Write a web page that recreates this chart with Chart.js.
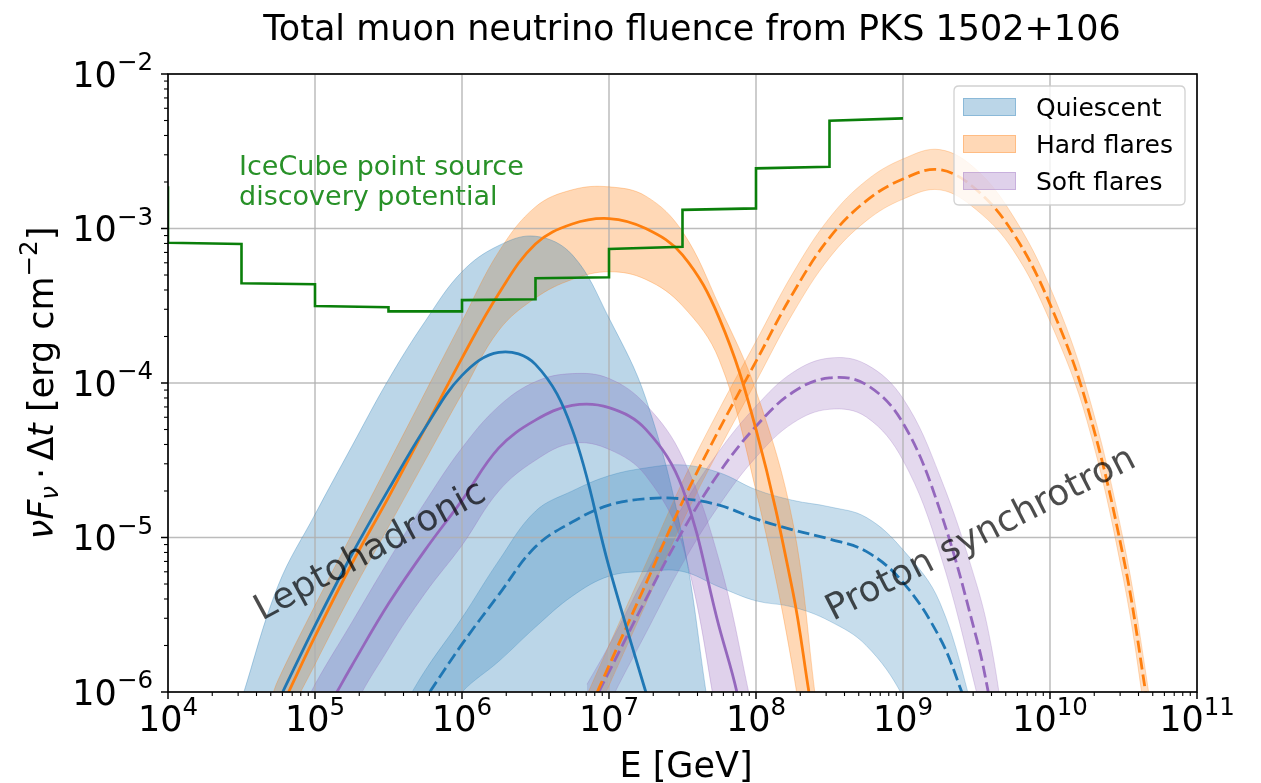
<!DOCTYPE html>
<html><head><meta charset="utf-8">
<script src="https://cdn.jsdelivr.net/npm/chart.js@4.4.0/dist/chart.umd.min.js"></script>
<style>html,body{margin:0;padding:0;background:#fff;}#wrap{width:1261px;height:783px;}</style>
</head><body><div id="wrap"><canvas id="c" width="1261" height="783"></canvas></div>
<script>
// ---------------- DATA ----------------
// Energies in GeV, fluence in erg cm^-2
// IceCube point-source discovery potential (binned)
const icE = [1e4,1e4,3.162e4,3.162e4,1e5,1e5,3.162e5,3.162e5,1e6,1e6,3.162e6,3.162e6,1e7,1e7,3.162e7,3.162e7,1e8,1e8,3.162e8,3.162e8,1e9];
const icY = [1.88e-3,8.09e-4,7.94e-4,4.42e-4,4.36e-4,3.15e-4,3.09e-4,2.91e-4,2.91e-4,3.44e-4,3.48e-4,4.76e-4,4.83e-4,7.36e-4,7.62e-4,1.32e-3,1.35e-3,2.45e-3,2.51e-3,4.99e-3,5.16e-3];

// Quiescent, leptohadronic (solid)
const qLepE = [6.03e4,1e5,1.78e5,3.16e5,5.62e5,1e6,1.78e6,3.16e6,5.62e6,1e7,1.78e7,2.24e7];
const qLepY = [1.0e-6,2.69e-6,7.76e-6,2.04e-5,5.13e-5,1.12e-4,1.58e-4,1.32e-4,5.01e-5,6.46e-6,1.0e-6,5.01e-7];
const qLepBandE  = [3.16e4,5.62e4,1e5,1.78e5,3.16e5,5.62e5,1e6,1.78e6,3.16e6,5.62e6,1e7,1.78e7,3.16e7,4.57e7,5.62e7];
const qLepBandHi = [8.91e-7,4.90e-6,1.41e-5,3.89e-5,1.05e-4,2.51e-4,5.25e-4,7.76e-4,8.91e-4,6.76e-4,2.63e-4,7.94e-5,1.0e-5,1.0e-6,2.51e-7];
const qLepBandLo = [1e-8,1e-8,1e-8,1e-8,1e-8,1e-8,1e-8,1e-8,1e-8,1e-8,1e-8,1e-8,1e-8,1e-8,1e-8];

// Quiescent, proton synchrotron (dashed)
const qSynE = [6.03e5,1e6,1.78e6,3.16e6,5.62e6,1e7,1.78e7,3.16e7,5.62e7,1e8,1.78e8,3.16e8,5.62e8,1e9,1.78e9,2.51e9,2.82e9];
const qSynY = [1.0e-6,2.04e-6,4.27e-6,8.71e-6,1.26e-5,1.62e-5,1.78e-5,1.78e-5,1.62e-5,1.32e-5,1.12e-5,9.77e-6,8.13e-6,5.13e-6,2.24e-6,1.0e-6,7.08e-7];
const qSynBandE  = [3.98e5,5.62e5,1e6,1.78e6,3.16e6,5.62e6,1e7,1.78e7,3.16e7,5.62e7,1e8,1.78e8,3.16e8,5.62e8,1e9,1.78e9,3.16e9];
const qSynBandHi = [7.94e-7,1.38e-6,3.02e-6,7.08e-6,1.48e-5,2.0e-5,2.51e-5,2.82e-5,2.95e-5,2.63e-5,2.04e-5,1.74e-5,1.58e-5,1.35e-5,8.32e-6,3.80e-6,6.31e-7];
const qSynBandLo = [2.82e-7,5.01e-7,1.0e-6,1.58e-6,2.63e-6,4.17e-6,5.62e-6,6.03e-6,6.03e-6,4.79e-6,3.89e-6,3.55e-6,2.88e-6,2.0e-6,9.33e-7,2.51e-7,6.31e-8];

// Hard flares, leptohadronic (solid)
const hLepE = [6.61e4,1e5,1.78e5,3.16e5,5.62e5,1e6,1.78e6,3.16e6,5.62e6,1e7,1.78e7,3.16e7,5.62e7,1e8,1.78e8,2.29e8,2.63e8];
const hLepY = [1.0e-6,2.29e-6,6.76e-6,1.82e-5,5.13e-5,1.45e-4,3.80e-4,7.94e-4,1.07e-3,1.16e-3,1.0e-3,6.76e-4,2.63e-4,5.01e-5,4.47e-6,1.0e-6,4.47e-7];
const hLepBandE  = [5.01e4,5.62e4,1e5,1.78e5,3.16e5,5.62e5,1e6,1.78e6,3.16e6,5.62e6,1e7,1.78e7,3.16e7,5.62e7,1e8,1.78e8,2.51e8,3.16e8];
const hLepBandHi = [8.91e-7,1.20e-6,3.63e-6,1.05e-5,3.02e-5,8.71e-5,2.51e-4,7.08e-4,1.38e-3,1.78e-3,1.86e-3,1.62e-3,9.55e-4,3.16e-4,8.91e-5,1.26e-5,1.0e-6,1.58e-7];
const hLepBandLo = [3.16e-7,5.01e-7,1.51e-6,4.37e-6,1.17e-5,3.16e-5,8.51e-5,2.19e-4,3.55e-4,4.68e-4,5.25e-4,4.68e-4,3.16e-4,1.41e-4,2.0e-5,1.41e-6,1.26e-7,3.16e-8];

// Hard flares, proton synchrotron (dashed)
const hSynE = [8.32e6,1e7,1.78e7,3.16e7,5.62e7,1e8,1.78e8,3.16e8,5.62e8,1e9,1.78e9,3.16e9,5.62e9,1e10,1.78e10,3.16e10,4.47e10,5.01e10];
const hSynY = [1.0e-6,1.48e-6,5.01e-6,1.70e-5,5.01e-5,1.38e-4,3.80e-4,8.71e-4,1.51e-3,2.09e-3,2.40e-3,1.78e-3,9.33e-4,3.24e-4,7.24e-5,7.41e-6,1.0e-6,4.47e-7];
const hSynBandE  = [7.08e6,1e7,1.78e7,3.16e7,5.62e7,1e8,1.78e8,3.16e8,5.62e8,1e9,1.78e9,3.16e9,5.62e9,1e10,1.78e10,3.16e10,4.47e10,5.62e10];
const hSynBandHi = [9.55e-7,2.0e-6,6.76e-6,2.29e-5,6.76e-5,1.86e-4,5.13e-4,1.17e-3,2.04e-3,2.82e-3,3.24e-3,2.40e-3,1.20e-3,4.17e-4,9.12e-5,9.55e-6,1.35e-6,2.75e-7];
const hSynBandLo = [5.25e-7,1.10e-6,3.72e-6,1.26e-5,3.72e-5,1.02e-4,2.82e-4,6.46e-4,1.12e-3,1.55e-3,1.78e-3,1.32e-3,7.24e-4,2.51e-4,5.75e-5,5.37e-6,6.61e-7,1.29e-7];

// Soft flares, leptohadronic (solid)
const sLepE = [1.41e5,1.78e5,3.16e5,5.62e5,1e6,1.78e6,3.16e6,5.62e6,1e7,1.78e7,3.16e7,5.62e7,7.41e7,8.32e7];
const sLepY = [1.0e-6,1.48e-6,3.72e-6,8.32e-6,1.74e-5,3.80e-5,5.75e-5,7.16e-5,6.92e-5,5.01e-5,2.09e-5,2.63e-6,1.0e-6,5.01e-7];
const sLepBandE  = [7.94e4,1e5,1.78e5,3.16e5,5.62e5,1e6,1.78e6,3.16e6,5.62e6,1e7,1.78e7,3.16e7,5.62e7,8.91e7,1.12e8];
const sLepBandHi = [7.08e-7,1.12e-6,2.82e-6,7.08e-6,1.70e-5,3.80e-5,7.08e-5,1.02e-4,1.15e-4,1.07e-4,7.24e-5,3.31e-5,7.08e-6,1.0e-6,3.16e-7];
const sLepBandLo = [6.31e-8,1.0e-7,7.08e-7,1.91e-6,4.37e-6,8.91e-6,2.0e-5,3.16e-5,4.07e-5,3.72e-5,2.51e-5,8.91e-6,5.62e-7,5.01e-8,1.58e-8];

// Soft flares, proton synchrotron (dashed)
const sSynE = [8.51e6,1e7,1.78e7,3.16e7,5.62e7,1e8,1.78e8,3.16e8,5.62e8,1e9,1.78e9,3.16e9,3.80e9,4.27e9];
const sSynY = [1.0e-6,1.35e-6,3.98e-6,1.10e-5,2.63e-5,5.25e-5,8.71e-5,1.08e-4,9.77e-5,5.50e-5,1.51e-5,2.24e-6,1.0e-6,5.01e-7];
const sSynBandE  = [7.08e6,1e7,1.78e7,3.16e7,5.62e7,1e8,1.78e8,3.16e8,5.62e8,1e9,1.78e9,3.16e9,3.98e9,5.01e9];
const sSynBandHi = [1.12e-6,2.0e-6,5.75e-6,1.58e-5,3.63e-5,7.08e-5,1.17e-4,1.45e-4,1.32e-4,7.94e-5,2.51e-5,5.01e-6,2.0e-6,5.01e-7];
const sSynBandLo = [3.98e-7,8.32e-7,2.40e-6,6.76e-6,1.62e-5,3.31e-5,5.50e-5,6.76e-5,6.03e-5,3.16e-5,7.94e-6,1.0e-6,3.55e-7,1.0e-7];

// Axis ticks and labels
const xMajor = [1e4,1e5,1e6,1e7,1e8,1e9,1e10,1e11];
const xMajorSup = ['4','5','6','7','8','9','10','11'];
const yMajor = [1e-6,1e-5,1e-4,1e-3,1e-2];
const yMajorSup = ['\u22126','\u22125','\u22124','\u22123','\u22122'];
const legendLabels = ['Quiescent','Hard flares','Soft flares'];
const titleText = 'Total muon neutrino fluence from PKS 1502+106';
const xLabelText = 'E [GeV]';
const icText = ['IceCube point source','discovery potential'];

// ---------------- STYLE ----------------
const FONT = '"DejaVu Sans", "Liberation Sans", sans-serif';
const C_BLUE = '31,119,180', C_OR = '255,127,14', C_PU = '148,103,189';
const A_LEP = 0.3, A_SYN = 0.25;
const TENSION = 0.38;
const rgba = (c,a) => `rgba(${c},${a})`;
const pts = (E,Y) => E.map((e,i) => ({x:e, y:Y[i]}));

function centerDs(E,Y,c,dashed){
  return {data:pts(E,Y), borderColor:rgba(c,1), borderWidth:2.8, borderDash: dashed?[12,5]:[],
          fill:false, pointRadius:0, tension:TENSION, clip:0};
}
function bandDs(E,Hi,Lo,c,a){
  return [
    {data:pts(E,Hi), borderColor:rgba(c,a), borderWidth:1, backgroundColor:rgba(c,a), fill:'+1',
     pointRadius:0, tension:TENSION, clip:0},
    {data:pts(E,Lo), borderColor:rgba(c,a), borderWidth:1, backgroundColor:'rgba(0,0,0,0)', fill:false,
     pointRadius:0, tension:TENSION, clip:0}
  ];
}

const datasets = [
  {data:pts(icE,icY), borderColor:'#0a7f0a', borderWidth:2.6, tension:0, fill:false, pointRadius:0, clip:0},
  centerDs(qLepE,qLepY,C_BLUE,false),
  centerDs(hLepE,hLepY,C_OR,false),
  centerDs(sLepE,sLepY,C_PU,false),
  centerDs(qSynE,qSynY,C_BLUE,true),
  centerDs(hSynE,hSynY,C_OR,true),
  centerDs(sSynE,sSynY,C_PU,true),
  ...bandDs(qLepBandE,qLepBandHi,qLepBandLo,C_BLUE,A_LEP),
  ...bandDs(hLepBandE,hLepBandHi,hLepBandLo,C_OR,A_LEP),
  ...bandDs(sLepBandE,sLepBandHi,sLepBandLo,C_PU,A_LEP),
  ...bandDs(qSynBandE,qSynBandHi,qSynBandLo,C_BLUE,A_SYN),
  ...bandDs(hSynBandE,hSynBandHi,hSynBandLo,C_OR,A_SYN),
  ...bandDs(sSynBandE,sSynBandHi,sSynBandLo,C_PU,A_SYN)
];

function supText(ctx, base, sup, x, y, size, align){
  const ss = size*0.7;
  ctx.font = `${size}px ${FONT}`; const wb = ctx.measureText(base).width;
  ctx.font = `${ss}px ${FONT}`; const ws = ctx.measureText(sup).width;
  const tot = wb + ws;
  const x0 = align==='center' ? x - tot/2 : (align==='right' ? x - tot : x);
  ctx.textAlign='left'; ctx.textBaseline='alphabetic';
  ctx.font = `${size}px ${FONT}`; ctx.fillText(base, x0, y);
  ctx.font = `${ss}px ${FONT}`; ctx.fillText(sup, x0+wb, y - size*0.46);
}

const decor = {
  id:'decor',
  beforeDatasetsDraw(chart){
    const {ctx, chartArea:a, scales:{x,y}} = chart;
    ctx.save();
    ctx.strokeStyle='rgba(176,176,176,0.85)'; ctx.lineWidth=1.5;
    xMajor.forEach(v=>{const p=x.getPixelForValue(v); ctx.beginPath(); ctx.moveTo(p,a.top); ctx.lineTo(p,a.bottom); ctx.stroke();});
    yMajor.forEach(v=>{const p=y.getPixelForValue(v); ctx.beginPath(); ctx.moveTo(a.left,p); ctx.lineTo(a.right,p); ctx.stroke();});
    ctx.restore();
  },
  afterDatasetsDraw(chart){
    const {ctx, chartArea:a, scales:{x,y}} = chart;
    ctx.save();
    // annotations
    ctx.fillStyle='rgba(0,0,0,0.7)'; ctx.font=`36px ${FONT}`; ctx.textAlign='left'; ctx.textBaseline='alphabetic';
    ctx.save(); ctx.translate(262,621); ctx.rotate(-28.4*Math.PI/180); ctx.fillText('Leptohadronic',0,0); ctx.restore();
    ctx.save(); ctx.translate(833,621); ctx.rotate(-27*Math.PI/180); ctx.fillText('Proton synchrotron',0,0); ctx.restore();
    ctx.fillStyle='rgb(40,145,40)'; ctx.font=`27px ${FONT}`;
    ctx.fillText(icText[0],239,175); ctx.fillText(icText[1],239,205);

    // legend
    const lx=954, ly=86, lw=231, lh=119, r=5;
    ctx.beginPath();
    ctx.moveTo(lx+r,ly); ctx.lineTo(lx+lw-r,ly); ctx.quadraticCurveTo(lx+lw,ly,lx+lw,ly+r);
    ctx.lineTo(lx+lw,ly+lh-r); ctx.quadraticCurveTo(lx+lw,ly+lh,lx+lw-r,ly+lh);
    ctx.lineTo(lx+r,ly+lh); ctx.quadraticCurveTo(lx,ly+lh,lx,ly+lh-r);
    ctx.lineTo(lx,ly+r); ctx.quadraticCurveTo(lx,ly,lx+r,ly); ctx.closePath();
    ctx.fillStyle='rgba(255,255,255,0.8)'; ctx.fill();
    ctx.strokeStyle='rgba(204,204,204,0.9)'; ctx.lineWidth=1.3; ctx.stroke();
    const cols=[C_BLUE,C_OR,C_PU];
    legendLabels.forEach((t,i)=>{
      const cy = 107 + i*37;
      ctx.fillStyle=rgba(cols[i],0.3); ctx.fillRect(963,cy-9,53,18);
      ctx.strokeStyle=rgba(cols[i],0.3); ctx.lineWidth=1; ctx.strokeRect(963.5,cy-8.5,52,17);
      ctx.fillStyle='#000'; ctx.font=`25px ${FONT}`; ctx.textAlign='left'; ctx.fillText(t,1036,cy+9);
    });

    // frame
    ctx.strokeStyle='#000'; ctx.lineWidth=1.6;
    ctx.strokeRect(a.left,a.top,a.right-a.left,a.bottom-a.top);

    // ticks
    ctx.lineWidth=1.5;
    xMajor.forEach(v=>{const p=x.getPixelForValue(v); ctx.beginPath(); ctx.moveTo(p,a.bottom); ctx.lineTo(p,a.bottom+7); ctx.stroke();});
    yMajor.forEach(v=>{const p=y.getPixelForValue(v); ctx.beginPath(); ctx.moveTo(a.left,p); ctx.lineTo(a.left-7,p); ctx.stroke();});
    ctx.lineWidth=1.1;
    xMajor.slice(0,-1).forEach(d=>{for(let m=2;m<10;m++){const p=x.getPixelForValue(d*m); ctx.beginPath(); ctx.moveTo(p,a.bottom); ctx.lineTo(p,a.bottom+4); ctx.stroke();}});
    yMajor.slice(0,-1).forEach(d=>{for(let m=2;m<10;m++){const p=y.getPixelForValue(d*m); ctx.beginPath(); ctx.moveTo(a.left,p); ctx.lineTo(a.left-4,p); ctx.stroke();}});

    // tick labels
    ctx.fillStyle='#000';
    xMajor.forEach((v,i)=>supText(ctx,'10',xMajorSup[i],x.getPixelForValue(v),731,35,'center'));
    yMajor.forEach((v,i)=>supText(ctx,'10',yMajorSup[i],153,y.getPixelForValue(v)+12.5,35,'right'));

    // axis labels
    ctx.font=`35px ${FONT}`; ctx.textAlign='center'; ctx.textBaseline='alphabetic';
    ctx.fillText(xLabelText,686,777);
    // title
    ctx.fillText(titleText,692,40);

    // y label (rotated, with math parts)
    const parts=[
      {t:'\u03bd',s:35,it:true,dy:0},
      {t:'F',s:35,it:true,dy:0},
      {t:'\u03bd',s:24.5,it:true,dy:5},
      {gap:7},
      {t:'\u00b7',s:35,dy:0},
      {gap:7},
      {t:'\u0394',s:35,dy:0},
      {t:'t',s:35,it:true,dy:0},
      {t:' [erg cm',s:35,dy:0},
      {t:'\u22122',s:24.5,dy:-16},
      {t:']',s:35,dy:0}
    ];
    let tot=0;
    parts.forEach(p=>{ if(p.gap){p.w=p.gap;} else {ctx.font=`${p.it?'italic ':''}${p.s}px ${FONT}`; p.w=ctx.measureText(p.t).width;} tot+=p.w; });
    ctx.save(); ctx.translate(53,383); ctx.rotate(-Math.PI/2);
    ctx.textAlign='left';
    let cx=-tot/2;
    parts.forEach(p=>{ if(!p.gap){ctx.font=`${p.it?'italic ':''}${p.s}px ${FONT}`; ctx.fillText(p.t,cx,p.dy);} cx+=p.w; });
    ctx.restore();

    ctx.restore();
  }
};

new Chart(document.getElementById('c').getContext('2d'), {
  type:'line',
  data:{datasets},
  options:{
    responsive:false, animation:false, devicePixelRatio:1,
    layout:{padding:{left:168,right:64,top:74,bottom:91}},
    scales:{
      x:{type:'logarithmic', min:1e4, max:1e11, display:false},
      y:{type:'logarithmic', min:1e-6, max:1e-2, display:false}
    },
    plugins:{legend:{display:false}, title:{display:false}, tooltip:{enabled:false},
             filler:{propagate:false, drawTime:'beforeDatasetsDraw'}},
    elements:{point:{radius:0}}
  },
  plugins:[decor]
});
</script></body></html>
